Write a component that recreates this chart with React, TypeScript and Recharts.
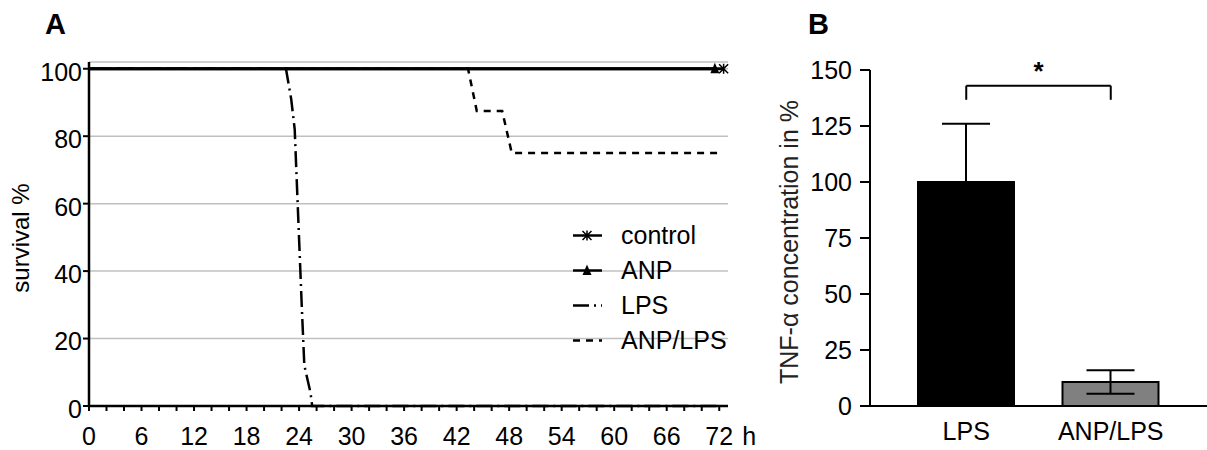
import React from 'react'
import {
  LineChart, Line, XAxis, YAxis, CartesianGrid,
  BarChart, Bar, Cell, ErrorBar, ReferenceLine,
} from 'recharts'

const FONT = '"Liberation Sans", Arial, Helvetica, sans-serif'

// A: survival (%) over time (h)
const controlHours = [0, 72.5]
const controlSurvival = [100, 100]
const anpHours = [0, 71.5]
const anpSurvival = [100, 100]
const lpsHours = [0, 22.5, 23.1, 23.5, 24.3, 24.6, 25.3, 25.5, 72]
const lpsSurvival = [100, 100, 91, 82, 30, 12, 4, 0, 0]
const anpLpsHours = [0, 43.3, 44.3, 47.2, 48.3, 72]
const anpLpsSurvival = [100, 100, 87.5, 87.5, 75, 75]

const hourTicks = [
  0, 2, 4, 6, 8, 10, 12, 14, 16, 18, 20, 22, 24, 26, 28, 30, 32, 34, 36,
  38, 40, 42, 44, 46, 48, 50, 52, 54, 56, 58, 60, 62, 64, 66, 68, 70, 72,
]
const survivalTicks = [0, 20, 40, 60, 80, 100]

// B: TNF-alpha concentration (%)
const groups = ['LPS', 'ANP/LPS']
const tnfMean = [100, 10.7]
const tnfErrLow = [0, 5.2]
const tnfErrHigh = [26, 5.3]
const tnfTicks = [0, 25, 50, 75, 100, 125, 150]
const bracketTop = 143
const bracketFoot = 136.7

const barFills = ['#000000', '#808080']

const toPoints = (hours: number[], values: number[]) =>
  hours.map((h, i) => ({ h, s: values[i] }))

const controlData = toPoints(controlHours, controlSurvival)
const anpData = toPoints(anpHours, anpSurvival)
const lpsData = toPoints(lpsHours, lpsSurvival)
const anpLpsData = toPoints(anpLpsHours, anpLpsSurvival)

const tnfData = groups.map((g, i) => ({
  group: g,
  mean: tnfMean[i],
  err: [tnfErrLow[i], tnfErrHigh[i]],
}))

function Marker({ kind, cx, cy }: { kind: string; cx: number; cy: number }) {
  if (kind === 'star') {
    return (
      <path
        d={`M${cx},${cy - 5}L${cx},${cy + 5}M${cx - 4.5},${cy - 4.5}L${cx + 4.5},${cy + 4.5}M${cx - 4.5},${cy + 4.5}L${cx + 4.5},${cy - 4.5}`}
        stroke="#000"
        strokeWidth={1.5}
        fill="none"
      />
    )
  }
  return <path d={`M${cx},${cy - 6}L${cx + 4.5},${cy + 4.5}L${cx - 4.5},${cy + 4.5}Z`} fill="#000" />
}

const endMarker = (kind: string, len: number) => (props: any) => {
  const { cx, cy, index } = props
  if (index !== len - 1) return <g key={`${kind}-${index}`} />
  return (
    <g key={`${kind}-${index}`}>
      <Marker kind={kind} cx={cx} cy={cy} />
    </g>
  )
}

const tickText = { fontSize: 25, fontFamily: FONT }

function HourTick(props: any) {
  const { x, y, payload } = props
  const v = payload.value
  if (v % 6 !== 0) return <g />
  return (
    <g>
      <text x={x} y={y + 32} textAnchor="middle" fill="#000" style={tickText}>
        {v}
      </text>
      {v === 72 && (
        <text x={x + 23} y={y + 32} textAnchor="start" fill="#000" style={tickText}>
          h
        </text>
      )}
    </g>
  )
}

// rotated axis title drawn inside the axis area
const AxisTitle = (text: string, cx: number, size: number, color: string) => (props: any) => {
  const vb = props.viewBox
  const cy = vb.y + vb.height / 2 + 4
  return (
    <text
      x={cx}
      y={cy}
      transform={`rotate(-90, ${cx}, ${cy})`}
      textAnchor="middle"
      dominantBaseline="central"
      style={{ fontSize: size, fontFamily: FONT }}
      fill={color}
    >
      {text}
    </text>
  )
}

const legendItems = [
  { name: 'control', dash: undefined, marker: 'star' },
  { name: 'ANP', dash: undefined, marker: 'triangle' },
  { name: 'LPS', dash: '16 5 2 5', marker: '' },
  { name: 'ANP/LPS', dash: '7 6', marker: '' },
]

function SurvivalLegend() {
  return (
    <div style={{ position: 'absolute', left: 565, top: 218, fontFamily: FONT }}>
      {legendItems.map(item => (
        <div key={item.name} style={{ display: 'flex', alignItems: 'center', height: 35 }}>
          <svg width={56} height={35}>
            <line x1={8} y1={17.5} x2={37} y2={17.5} stroke="#000" strokeWidth={2.5} strokeDasharray={item.dash} />
            {item.marker && <Marker kind={item.marker} cx={22} cy={17.5} />}
          </svg>
          <span style={{ fontSize: 25, lineHeight: '35px', color: '#000' }}>{item.name}</span>
        </div>
      ))}
    </div>
  )
}

function SurvivalChart() {
  return (
    <div style={{ position: 'absolute', left: 0, top: 0 }}>
      <LineChart width={760} height={450} margin={{ top: 62, right: 32, bottom: 0, left: 0 }}>
        <CartesianGrid vertical={false} stroke="#c0c0c0" strokeWidth={1.5} />
        <XAxis
          type="number"
          dataKey="h"
          domain={[0, 73]}
          ticks={hourTicks}
          interval={0}
          height={44}
          tickSize={5}
          tick={<HourTick />}
          tickLine={{ stroke: '#000', strokeWidth: 2 }}
          axisLine={{ stroke: '#000', strokeWidth: 2.5 }}
        />
        <YAxis
          type="number"
          domain={[0, 102]}
          ticks={survivalTicks}
          interval={0}
          width={89}
          tickSize={6}
          tickMargin={1}
          tick={{ fill: '#000', dy: 3, style: tickText }}
          tickLine={{ stroke: '#000', strokeWidth: 2 }}
          axisLine={{ stroke: '#000', strokeWidth: 2.5 }}
          label={{ content: AxisTitle('survival %', 20, 24, '#000') }}
        />
        <Line data={anpLpsData} dataKey="s" name="ANP/LPS" stroke="#000" strokeWidth={2.5}
          strokeDasharray="7 6" dot={false} activeDot={false} isAnimationActive={false} />
        <Line data={lpsData} dataKey="s" name="LPS" stroke="#000" strokeWidth={2.5}
          strokeDasharray="16 5 2 5" dot={false} activeDot={false} isAnimationActive={false} />
        <Line data={anpData} dataKey="s" name="ANP" stroke="#000" strokeWidth={3}
          dot={endMarker('triangle', anpData.length)} activeDot={false} isAnimationActive={false} />
        <Line data={controlData} dataKey="s" name="control" stroke="#000" strokeWidth={3}
          dot={endMarker('star', controlData.length)} activeDot={false} isAnimationActive={false} />
      </LineChart>
      <SurvivalLegend />
    </div>
  )
}

function TnfChart() {
  return (
    <div style={{ position: 'absolute', left: 760, top: 0 }}>
      <BarChart width={447} height={450} data={tnfData} margin={{ top: 70, right: 0, bottom: 0, left: 0 }}>
        <XAxis
          dataKey="group"
          height={44}
          padding={{ left: 24, right: 24 }}
          tickLine={false}
          tickSize={0}
          tickMargin={16}
          tick={{ fill: '#000', style: tickText }}
          axisLine={{ stroke: '#000', strokeWidth: 2 }}
        />
        <YAxis
          type="number"
          domain={[0, 150]}
          ticks={tnfTicks}
          interval={0}
          width={110}
          tickSize={10}
          tickMargin={8}
          tick={{ fill: '#000', style: tickText }}
          tickLine={{ stroke: '#000', strokeWidth: 2 }}
          axisLine={{ stroke: '#000', strokeWidth: 2 }}
          label={{ content: AxisTitle('TNF-α concentration in %', 29, 25, '#222') }}
        />
        <Bar dataKey="mean" barSize={96} stroke="#000" strokeWidth={2} isAnimationActive={false}>
          {tnfData.map((d, i) => (
            <Cell key={d.group} fill={barFills[i]} />
          ))}
          <ErrorBar dataKey="err" width={24} stroke="#000" strokeWidth={2} direction="y" isAnimationActive={false} />
        </Bar>
        <ReferenceLine
          segment={[{ x: groups[0], y: bracketFoot }, { x: groups[0], y: bracketTop }]}
          stroke="#000" strokeWidth={2}
        />
        <ReferenceLine
          segment={[{ x: groups[0], y: bracketTop }, { x: groups[1], y: bracketTop }]}
          stroke="#000" strokeWidth={2}
          label={{ value: '*', position: 'top', offset: 6, fill: '#000', style: { fontSize: 26, fontWeight: 'bold', fontFamily: FONT } }}
        />
        <ReferenceLine
          segment={[{ x: groups[1], y: bracketTop }, { x: groups[1], y: bracketFoot }]}
          stroke="#000" strokeWidth={2}
        />
      </BarChart>
    </div>
  )
}

export default function App() {
  return (
    <div style={{ position: 'absolute', left: 0, top: 0, width: 1207, height: 450, background: '#fff', fontFamily: FONT }}>
      <div style={{ position: 'absolute', left: 45, top: 10, fontSize: 29, fontWeight: 'bold', lineHeight: '28px' }}>A</div>
      <div style={{ position: 'absolute', left: 808, top: 10, fontSize: 29, fontWeight: 'bold', lineHeight: '28px' }}>B</div>
      <SurvivalChart />
      <TnfChart />
    </div>
  )
}
